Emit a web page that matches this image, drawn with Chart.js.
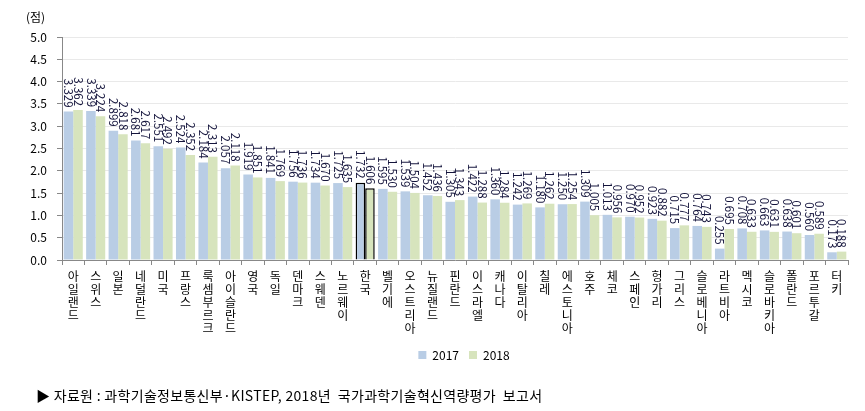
<!DOCTYPE html>
<html><head><meta charset="utf-8">
<script src="https://cdn.jsdelivr.net/npm/chart.js@4"></script>
<style>
html,body{margin:0;padding:0;background:#fff;}
#wrap{position:relative;width:865px;height:411px;}
#src{position:absolute;left:36px;top:385px;font:14px "Noto Sans CJK KR",sans-serif;color:#000;white-space:pre;letter-spacing:0.3px;}
</style></head><body>
<div id="wrap"><canvas id="c" width="865" height="411" style="width:865px;height:411px;"></canvas><div id="src">▶ 자료원 : 과학기술정보통신부·KISTEP, 2018년  국가과학기술혁신역량평가  보고서</div></div>
<script>
const categories = ['아일랜드','스위스','일본','네덜란드','미국','프랑스','룩셈부르크','아이슬란드','영국','독일','덴마크','스웨덴','노르웨이','한국','벨기에','오스트리아','뉴질랜드','핀란드','이스라엘','캐나다','이탈리아','칠레','에스토니아','호주','체코','스페인','헝가리','그리스','슬로베니아','라트비아','멕시코','슬로바키아','폴란드','포르투갈','터키'];
const values2017 = [3.329,3.339,2.899,2.681,2.551,2.524,2.184,2.057,1.919,1.841,1.756,1.734,1.725,1.732,1.595,1.539,1.452,1.305,1.422,1.360,1.242,1.180,1.250,1.309,1.013,0.970,0.923,0.715,0.764,0.255,0.708,0.663,0.638,0.560,0.173];
const values2018 = [3.362,3.224,2.818,2.617,2.492,2.352,2.313,2.118,1.851,1.769,1.736,1.670,1.635,1.606,1.530,1.504,1.436,1.343,1.288,1.284,1.269,1.262,1.254,1.005,0.956,0.952,0.882,0.777,0.743,0.695,0.633,0.631,0.601,0.589,0.188];
const seriesNames = ['2017','2018'];
const yMin = 0, yMax = 5, yStep = 0.5;
const yUnit = '(점)';
const highlight = '한국';

const FONT = '"Noto Sans CJK KR", sans-serif';
const hl = categories.map(c => c === highlight);

const labelPlugin = {
  id: 'vals',
  afterLayout(chart) {
    const lg = chart.legend;
    if (lg) { lg.left += 40; lg.right += 40; }
  },
  afterDatasetsDraw(chart) {
    const ctx = chart.ctx;
    ctx.save();
    ctx.font = '11.5px ' + FONT;
    ctx.fillStyle = '#14143c';
    chart.data.datasets.forEach((ds, i) => {
      const meta = chart.getDatasetMeta(i);
      meta.data.forEach((bar, j) => {
        ctx.save();
        ctx.translate(bar.x, bar.y - 4);
        ctx.rotate(Math.PI / 2);
        ctx.textAlign = 'right';
        ctx.textBaseline = 'middle';
        ctx.fillText(ds.data[j].toFixed(3), 0, 0);
        ctx.restore();
      });
    });
    ctx.font = '12px ' + FONT;
    ctx.fillStyle = '#000';
    ctx.textAlign = 'left';
    ctx.textBaseline = 'middle';
    ctx.fillText(yUnit, 26, 17);
    ctx.restore();
  }
};

new Chart(document.getElementById('c'), {
  type: 'bar',
  data: {
    labels: categories.map(c => Array.from(c)),
    datasets: [
      { label: seriesNames[0], data: values2017, backgroundColor: '#B9CDE5',
        borderColor: hl.map(h => h ? '#000' : 'rgba(0,0,0,0)'), borderWidth: hl.map(h => h ? 1.5 : 0) },
      { label: seriesNames[1], data: values2018, backgroundColor: '#D7E4BD',
        borderColor: hl.map(h => h ? '#000' : 'rgba(0,0,0,0)'), borderWidth: hl.map(h => h ? 1.5 : 0) }
    ]
  },
  options: {
    responsive: false,
    animation: false,
    layout: { padding: { top: 37, right: 17, left: 0, bottom: 40 } },
    datasets: { bar: { categoryPercentage: 0.85, barPercentage: 1.0 } },
    plugins: {
      legend: {
        position: 'bottom',
        labels: { boxWidth: 8, boxHeight: 8, font: { size: 12, family: FONT }, color: '#000', padding: 10 }
      },
      tooltip: { enabled: false }
    },
    scales: {
      x: {
        grid: { offset: true, drawOnChartArea: false, drawTicks: true, tickLength: 5, color: '#888' },
        border: { color: '#888' },
        ticks: { autoSkip: false, maxRotation: 0, minRotation: 0, padding: 5, color: '#000',
          font: { size: 12, family: FONT, lineHeight: 1.08 } },
        afterFit(s) { s.height = 79; }
      },
      y: {
        min: yMin, max: yMax,
        grid: { color: '#e9e9e9', tickColor: '#888', tickLength: 5 },
        border: { color: '#888' },
        ticks: { stepSize: yStep, padding: 10, color: '#000', font: { size: 12, family: FONT },
          callback: v => v.toFixed(1) },
        afterFit(s) { s.width = 62; }
      }
    }
  },
  plugins: [labelPlugin]
});
</script>
</body></html>
